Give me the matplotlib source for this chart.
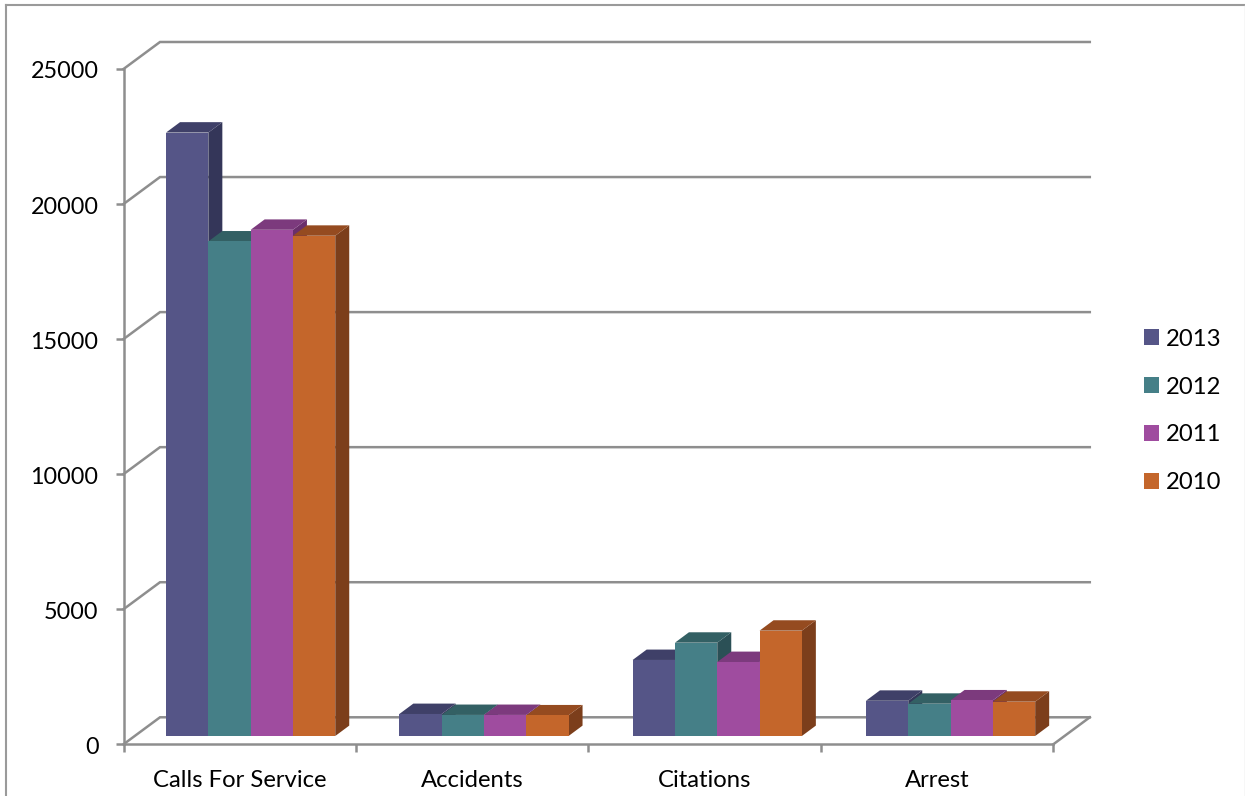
import matplotlib
matplotlib.use("Agg")
import matplotlib.pyplot as plt
from matplotlib.lines import Line2D
from matplotlib.patches import Patch, Polygon
from matplotlib.transforms import ScaledTranslation

plt.rcParams["font.family"] = ["Lato", "DejaVu Sans"]

# data
categories = ["Calls For Service", "Accidents", "Citations", "Arrest"]
years = ["2013", "2012", "2011", "2010"]
values_2013 = [22340, 815, 2815, 1305]
values_2012 = [18310, 780, 3455, 1195]
values_2011 = [18740, 780, 2740, 1320]
values_2010 = [18520, 765, 3900, 1270]
series = [values_2013, values_2012, values_2011, values_2010]
y_ticks = [0, 5000, 10000, 15000, 20000, 25000]

# colours per series: front, top, side
front_colors = ["#555587", "#457F87", "#9F4C9F", "#C4662B"]
top_colors = ["#3F4068", "#336064", "#7C3A7D", "#954B20"]
side_colors = ["#343659", "#2B5056", "#6A2F6B", "#7C3E1B"]
grid_color = "#8E8E8E"

W, H = 1245, 796
fig = plt.figure(figsize=(W / 100, H / 100), dpi=100, facecolor="white")

# axes box is the front plane of the 3d chart, in pixels
left, right, top, bottom = 123.5, 1053.3, 69.0, 744.3
ax = fig.add_axes([left / W, 1 - bottom / H, (right - left) / W, (bottom - top) / H])
ax.set_xlim(0, 4)
ax.set_ylim(0, 25000)
ax.patch.set_visible(False)

# depth of the box and of the bars, in data units
wall_dx = 36.5 / 232.45
wall_dy = 1000
bar_dx = 14 / 232.45
bar_dy = 385
bar_base = 307
bar_start = 0.183
bar_w = 42.3 / 232.45
group_pitch = 1.0037

# back wall gridlines
for v in y_ticks:
    ax.plot([0, wall_dx, 4 + wall_dx], [v, v + wall_dy, v + wall_dy],
            color=grid_color, lw=1.8, clip_on=False, zorder=1, solid_joinstyle="miter")
ax.plot([4, 4 + wall_dx], [0, wall_dy], color=grid_color, lw=1.8, clip_on=False, zorder=1)

# bars, left to right so each one covers the side of the one before
z = 2
for i in range(len(categories)):
    for j, vals in enumerate(series):
        x0 = i * group_pitch + bar_start + j * bar_w
        x1 = x0 + bar_w
        y0 = bar_base
        y1 = bar_base + vals[i]
        side = [(x1, y0), (x1 + bar_dx, y0 + bar_dy), (x1 + bar_dx, y1 + bar_dy), (x1, y1)]
        roof = [(x0, y1), (x0 + bar_dx, y1 + bar_dy), (x1 + bar_dx, y1 + bar_dy), (x1, y1)]
        face = [(x0, y0), (x1, y0), (x1, y1), (x0, y1)]
        ax.add_patch(Polygon(side, closed=True, fc=side_colors[j], ec="none", clip_on=False, zorder=z))
        ax.add_patch(Polygon(roof, closed=True, fc=top_colors[j], ec="none", clip_on=False, zorder=z))
        ax.add_patch(Polygon(face, closed=True, fc=front_colors[j], ec="none", clip_on=False, zorder=z))
        z += 1

# axes and ticks
for name in ["top", "right"]:
    ax.spines[name].set_visible(False)
for name in ["left", "bottom"]:
    ax.spines[name].set_color(grid_color)
    ax.spines[name].set_linewidth(1.8)
    ax.spines[name].set_zorder(100)

ax.set_yticks(y_ticks)
ax.set_yticklabels([str(v) for v in y_ticks], fontsize=16.8, color="black")
ax.tick_params(axis="y", length=5.5, width=1.8, color=grid_color, pad=12.5)
# labels sit one pixel lower than matplotlib centres them
nudge = ScaledTranslation(0, -1 / 100, fig.dpi_scale_trans)
for lab in ax.get_yticklabels():
    lab.set_transform(lab.get_transform() + nudge)

ax.set_xticks(range(5))
ax.set_xticklabels([])
ax.set_xticks([i + 0.5 for i in range(4)], minor=True)
ax.set_xticklabels(categories, minor=True, fontsize=17.2, color="black")
ax.tick_params(axis="x", which="major", length=5.5, width=1.8, color=grid_color)
ax.tick_params(axis="x", which="minor", length=0, pad=18.6)

# legend
handles = [Patch(fc=c, ec="none") for c in front_colors]
fig.legend(handles, years, loc="center left", bbox_to_anchor=(1139 / W, 1 - 411 / H),
           bbox_transform=fig.transFigure, frameon=False, fontsize=17.2, handlelength=0.63,
           handleheight=0.63, handletextpad=0.3, labelspacing=1.125, borderpad=0.2, borderaxespad=0)

# outer chart frame
frame_x = 6 / W
frame_y = 1 - 4.5 / H
fig.add_artist(Line2D([frame_x, frame_x], [0, frame_y], color="#9A9A9A", lw=1.5))
fig.add_artist(Line2D([frame_x, 1], [frame_y, frame_y], color="#9A9A9A", lw=1.5))
fig.add_artist(Line2D([1244.5 / W, 1244.5 / W], [0, frame_y], color="#D8D8D8", lw=1))

fig.savefig("out.png", dpi=100)
plt.close(fig)
